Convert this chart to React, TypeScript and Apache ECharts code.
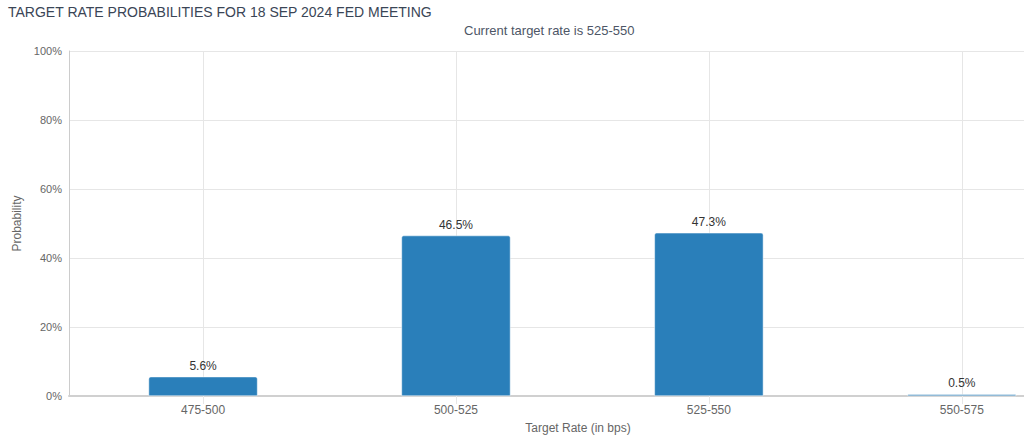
import React, { useEffect, useRef } from "react";
import * as echarts from "echarts";

const categories: string[] = ["475-500", "500-525", "525-550", "550-575"];
const probabilities: number[] = [5.6, 46.5, 47.3, 0.5];
const yTicks: number[] = [0, 20, 40, 60, 80, 100];

const TITLE = "TARGET RATE PROBABILITIES FOR 18 SEP 2024 FED MEETING";
const SUBTITLE = "Current target rate is 525-550";
const FONT = "'Liberation Sans', Arial, sans-serif";

export default function App() {
  const ref = useRef<HTMLDivElement>(null);
  useEffect(() => {
    if (!ref.current) return;
    const chart = echarts.init(ref.current, null, { renderer: "svg" });
    const idx = categories.map((_, i) => i);
    chart.setOption({
      animation: false,
      textStyle: { fontFamily: FONT },
      title: [
        {
          text: TITLE,
          left: 8,
          top: 5,
          padding: 0,
          textStyle: { fontSize: 14, fontWeight: "normal", color: "#3a4556", fontFamily: FONT },
        },
        {
          text: SUBTITLE,
          left: 464,
          top: 24,
          padding: 0,
          textStyle: { fontSize: 13, fontWeight: "normal", color: "#4d5666", fontFamily: FONT },
        },
      ],
      grid: { left: 69, right: -63, top: 51, bottom: 46, containLabel: false, outerBoundsMode: "none" },
      xAxis: {
        type: "value",
        min: -0.53,
        max: 3.495,
        name: "Target Rate (in bps)",
        nameLocation: "middle",
        nameGap: 26,
        nameTextStyle: { fontSize: 12, color: "#666666", fontFamily: FONT },
        axisLine: { show: true, onZero: false, lineStyle: { color: "#d0d0d0", width: 2 } },
        axisTick: { show: true, customValues: idx, length: 8, lineStyle: { color: "#e6e6e6" } },
        axisLabel: {
          customValues: idx,
          formatter: (v: number) => categories[Math.round(v)] ?? "",
          fontSize: 12,
          color: "#666666",
          margin: 8,
          fontFamily: FONT,
        },
        splitLine: { show: false },
      },
      yAxis: {
        type: "value",
        min: yTicks[0],
        max: yTicks[yTicks.length - 1],
        interval: 20,
        name: "Probability",
        nameLocation: "middle",
        nameGap: 44,
        nameTextStyle: { fontSize: 12, color: "#666666", fontFamily: FONT },
        axisLine: { show: true, onZero: false, lineStyle: { color: "#cccccc", width: 1 } },
        axisTick: { show: false },
        axisLabel: { formatter: "{value}%", fontSize: 11, color: "#666666", margin: 7, fontFamily: FONT },
        splitLine: { show: true, lineStyle: { color: "#e6e6e6", width: 1 } },
      },
      series: [
        {
          type: "line",
          data: [],
          z: 0,
          silent: true,
          markLine: {
            z: 0,
            silent: true,
            symbol: "none",
            label: { show: false },
            lineStyle: { color: "#e6e6e6", width: 1, type: "solid" },
            data: idx.map((i) => ({ xAxis: i })),
          },
        },
        {
          type: "bar",
          z: 6,
          barWidth: 109,
          data: probabilities.map((p, i) => [i, p]),
          itemStyle: { color: "#2a7fba", borderRadius: [2, 2, 0, 0], borderColor: "#ffffff", borderWidth: 0.5 },
          label: {
            show: true,
            position: "top",
            distance: 5,
            formatter: (p: any) => `${p.value[1]}%`,
            fontSize: 12,
            color: "#333333",
            fontFamily: FONT,
          },
        },
      ],
    });
    return () => chart.dispose();
  }, []);
  return (
    <div
      ref={ref}
      style={{ position: "absolute", left: 0, top: 0, width: 1024, height: 442, background: "#fff" }}
    />
  );
}
